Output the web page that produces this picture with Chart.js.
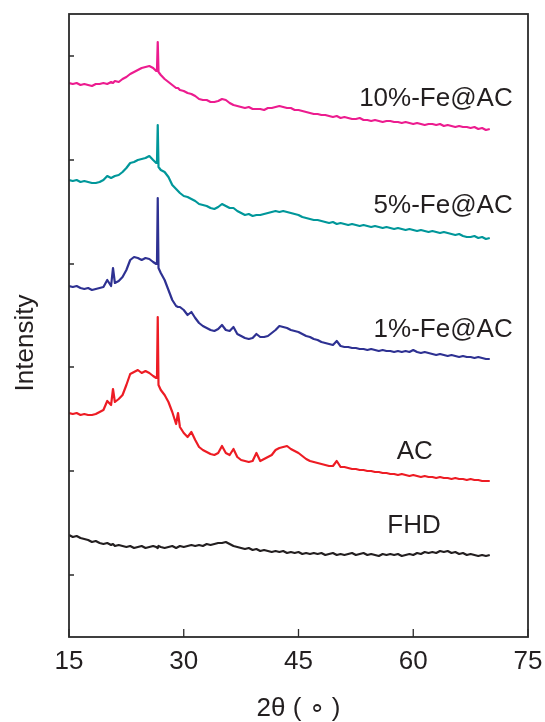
<!DOCTYPE html>
<html>
<head>
<meta charset="utf-8">
<script src="https://cdn.jsdelivr.net/npm/chart.js@4.4.0/dist/chart.umd.min.js"></script>
<style>
    body { margin: 0; background: #fff; }
</style>
</head>
<body>
<canvas id="xrdGraph" width="545" height="722"></canvas>

<script>
    // 2theta positions (deg) shared by all patterns
    const twoTheta = [
        15, 15.5, 16, 16.5, 17, 17.5, 18, 18.5, 19, 19.5,
        20, 20.5, 20.75, 21, 21.5, 22, 22.5, 23, 23.5, 24,
        24.5, 25, 25.5, 26, 26.4, 26.5, 26.6, 26.7, 27, 27.5,
        28, 28.5, 29, 29.25, 29.5, 30, 30.5, 31, 31.5, 32,
        32.5, 33, 33.5, 34, 34.5, 35, 35.5, 36, 36.5, 37,
        37.5, 38, 38.5, 39, 39.5, 40, 40.5, 41, 41.5, 42,
        42.5, 43, 43.5, 44, 44.5, 45, 45.5, 46, 46.5, 47,
        47.5, 48, 48.5, 49, 49.5, 50, 50.5, 51, 51.5, 52,
        52.5, 53, 53.5, 54, 54.5, 55, 55.5, 56, 56.5, 57,
        57.5, 58, 58.5, 59, 59.5, 60, 60.5, 61, 61.5, 62,
        62.5, 63, 63.5, 64, 64.5, 65, 65.5, 66, 66.5, 67,
        67.5, 68, 68.5, 69, 69.5, 70
    ];

    // stacked intensities (a.u.), each pattern shifted up for clarity
    const fhd = [
        102, 100, 101, 99, 98, 97, 95, 96, 94, 93,
        94, 92, 93, 91, 92, 91, 90, 91, 89, 90,
        91, 89, 90, 91, 90, 90, 89, 91, 90, 89,
        90, 91, 89, 90, 91, 90, 91, 92, 91, 92,
        91, 93, 92, 93, 94, 94, 95, 93, 91, 90,
        89, 88, 89, 87, 88, 86, 87, 86, 85, 86,
        85, 86, 84, 85, 84, 85, 83, 84, 83, 84,
        83, 84, 82, 83, 84, 82, 83, 82, 83, 84,
        82, 83, 84, 82, 83, 82, 81, 83, 82, 83,
        82, 83, 81, 82, 83, 82, 84, 83, 85, 84,
        85, 84, 86, 85, 86, 84, 85, 83, 84, 82,
        83, 82, 81, 82, 81, 82
    ];
    const ac = [
        224, 223, 224, 222, 223, 222, 222, 223, 225, 227,
        236, 232, 248, 235, 238, 242, 252, 263, 265, 267,
        264, 266, 264, 261, 259, 260, 320, 252, 247, 242,
        235, 225, 213, 224, 210, 204, 200, 205, 197, 190,
        187, 185, 183, 182, 184, 191, 184, 182, 188, 180,
        177, 176, 175, 176, 184, 176, 178, 180, 182, 187,
        189, 190, 191, 188, 186, 184, 181, 178, 176, 175,
        174, 173, 172, 171, 171, 176, 170, 170, 169, 168,
        168, 167, 167, 166, 166, 165, 165, 164, 164, 163,
        163, 162, 163, 162, 161, 162, 161, 160, 161, 160,
        160, 159, 160, 159, 159, 158, 159, 158, 158, 157,
        158, 157, 157, 156, 156, 156
    ];
    const fe1 = [
        351, 350, 351, 349, 348, 349, 347, 348, 349, 350,
        357, 351, 369, 354, 356, 360, 367, 377, 380, 379,
        377, 379, 378, 375, 373, 374, 439, 369, 364, 357,
        347, 337, 331, 330, 330, 327, 322, 325, 319, 314,
        311, 309, 307, 306, 308, 312, 307, 306, 310, 303,
        301, 299, 298, 299, 303, 300, 300, 301, 304, 307,
        311, 310, 309, 307, 306, 305, 303, 301, 300, 298,
        297, 295, 294, 293, 292, 296, 291, 290, 290, 289,
        289, 288, 288, 287, 288, 287, 286, 287, 286, 286,
        285, 286, 285, 286, 285, 287, 285, 284, 285, 284,
        283, 282, 283, 282, 281, 282, 281, 280, 281, 280,
        280, 279, 280, 279, 278, 278
    ];
    const fe5 = [
        457, 456, 457, 455, 456, 455, 454, 454, 455, 457,
        461, 459, 460, 461, 462, 465, 469, 474, 475, 477,
        478, 479, 481, 477, 474, 475, 512, 470, 467, 465,
        460, 452, 448, 446, 444, 441, 440, 438, 436, 433,
        432, 431, 429, 428, 430, 433, 431, 429, 429, 426,
        424, 422, 423, 421, 422, 422, 423, 424, 425, 426,
        425, 426, 425, 424, 423, 422, 420, 419, 418, 417,
        417, 416, 415, 414, 415, 413, 414, 413, 412, 413,
        412, 411, 412, 411, 410, 411, 410, 409, 410, 409,
        408, 409, 408, 407, 408, 407, 406, 407, 406, 405,
        406, 405, 404, 405, 404, 403, 402, 403, 401, 400,
        400, 401, 399, 400, 398, 399
    ];
    const fe10 = [
        554, 553, 554, 552, 553, 552, 551, 553, 553, 554,
        553, 555, 554, 556, 555, 558, 560, 563, 565, 567,
        569, 570, 571, 569, 566, 567, 595, 565, 562, 558,
        555, 552, 549, 549, 547, 546, 544, 543, 541, 538,
        537, 537, 535, 535, 536, 538, 537, 534, 532, 531,
        530, 529, 530, 528, 528, 528, 527, 529, 529, 530,
        531, 530, 529, 529, 527, 527, 526, 525, 524, 523,
        523, 522, 522, 521, 520, 521, 519, 520, 519, 518,
        518, 519, 517, 517, 516, 517, 516, 515, 516, 516,
        515, 515, 514, 515, 514, 513, 514, 513, 512, 513,
        513, 512, 513, 511, 512, 511, 510, 511, 510, 510,
        509, 510, 508, 509, 507, 508
    ];

    const sampleNames = ['FHD', 'AC', '1%-Fe@AC', '5%-Fe@AC', '10%-Fe@AC'];
    const xTicks = [15, 30, 45, 60, 75];
    const intensityTicks = [62, 166, 270, 373, 477, 581];

    const txt = '#231f20';
    const fam = "'Liberation Sans', Arial, sans-serif";

    function pts(arr) {
        return twoTheta.map((t, i) => ({ x: t, y: arr[i] }));
    }

    function line(label, arr, color) {
        return {
            label: label,
            data: pts(arr),
            borderColor: color,
            borderWidth: 2.2,
            borderJoinStyle: 'round',
            pointRadius: 0,
            tension: 0,
            fill: false
        };
    }

    // frame, inward ticks, axis titles and sample names
    const decorations = {
        id: 'decorations',
        afterDatasetsDraw(chart) {
            const ctx = chart.ctx;
            const a = chart.chartArea;
            const x = chart.scales.x;
            const y = chart.scales.y;
            ctx.save();
            ctx.strokeStyle = '#2b2b2b';
            ctx.lineWidth = 1.8;
            ctx.strokeRect(a.left, a.top, a.right - a.left, a.bottom - a.top);

            ctx.lineWidth = 1.3;
            ctx.beginPath();
            xTicks.forEach(v => {
                const px = x.getPixelForValue(v);
                ctx.moveTo(px, a.bottom);
                ctx.lineTo(px, a.bottom - 8);
            });
            intensityTicks.forEach(v => {
                const py = y.getPixelForValue(v);
                ctx.moveTo(a.left, py);
                ctx.lineTo(a.left + 5, py);
            });
            ctx.stroke();

            ctx.fillStyle = txt;
            ctx.font = '26px ' + fam;
            ctx.textBaseline = 'middle';

            // sample names next to their patterns
            const place = [
                { at: [60.1, 111], align: 'center' },
                { at: [60.2, 185], align: 'center' },
                { at: [73.0, 307], align: 'right' },
                { at: [73.0, 431], align: 'right' },
                { at: [73.0, 538], align: 'right' }
            ];
            sampleNames.forEach((name, i) => {
                ctx.textAlign = place[i].align;
                ctx.fillText(name, x.getPixelForValue(place[i].at[0]), y.getPixelForValue(place[i].at[1]));
            });

            // axis titles
            ctx.textAlign = 'center';
            ctx.fillText('2θ ( ∘ )', (a.left + a.right) / 2, 709);
            ctx.translate(26, 343);
            ctx.rotate(-Math.PI / 2);
            ctx.fillText('Intensity', 0, 0);
            ctx.restore();
        }
    };

    const ctx = document.getElementById('xrdGraph').getContext('2d');
    const xrdGraph = new Chart(ctx, {
        type: 'line',
        data: {
            datasets: [
                line(sampleNames[0], fhd, '#231f20'),
                line(sampleNames[1], ac, '#ed1c24'),
                line(sampleNames[2], fe1, '#2e3192'),
                line(sampleNames[3], fe5, '#00979a'),
                line(sampleNames[4], fe10, '#ec1c8f')
            ]
        },
        options: {
            responsive: false,
            devicePixelRatio: 1,
            animation: false,
            layout: { padding: { top: 14, right: 17, left: 0, bottom: 0 } },
            plugins: {
                legend: { display: false },
                tooltip: { enabled: false }
            },
            scales: {
                x: {
                    type: 'linear',
                    min: 15,
                    max: 75,
                    grid: { display: false, drawTicks: false },
                    border: { display: false },
                    afterBuildTicks: s => { s.ticks = xTicks.map(v => ({ value: v })); },
                    afterFit: s => {
                        s.height = 85;
                        s.paddingLeft = 0;
                        s.paddingRight = 0;
                    },
                    ticks: {
                        color: txt,
                        padding: 9,
                        maxRotation: 0,
                        autoSkip: false,
                        font: { family: fam, size: 26 }
                    }
                },
                y: {
                    type: 'linear',
                    min: 0,
                    max: 623,
                    grid: { display: false, drawTicks: false },
                    border: { display: false },
                    afterBuildTicks: s => { s.ticks = intensityTicks.map(v => ({ value: v })); },
                    afterFit: s => {
                        s.width = 69;
                        s.paddingTop = 0;
                        s.paddingBottom = 0;
                    },
                    ticks: { display: false }
                }
            }
        },
        plugins: [decorations]
    });
</script>
</body>
</html>
